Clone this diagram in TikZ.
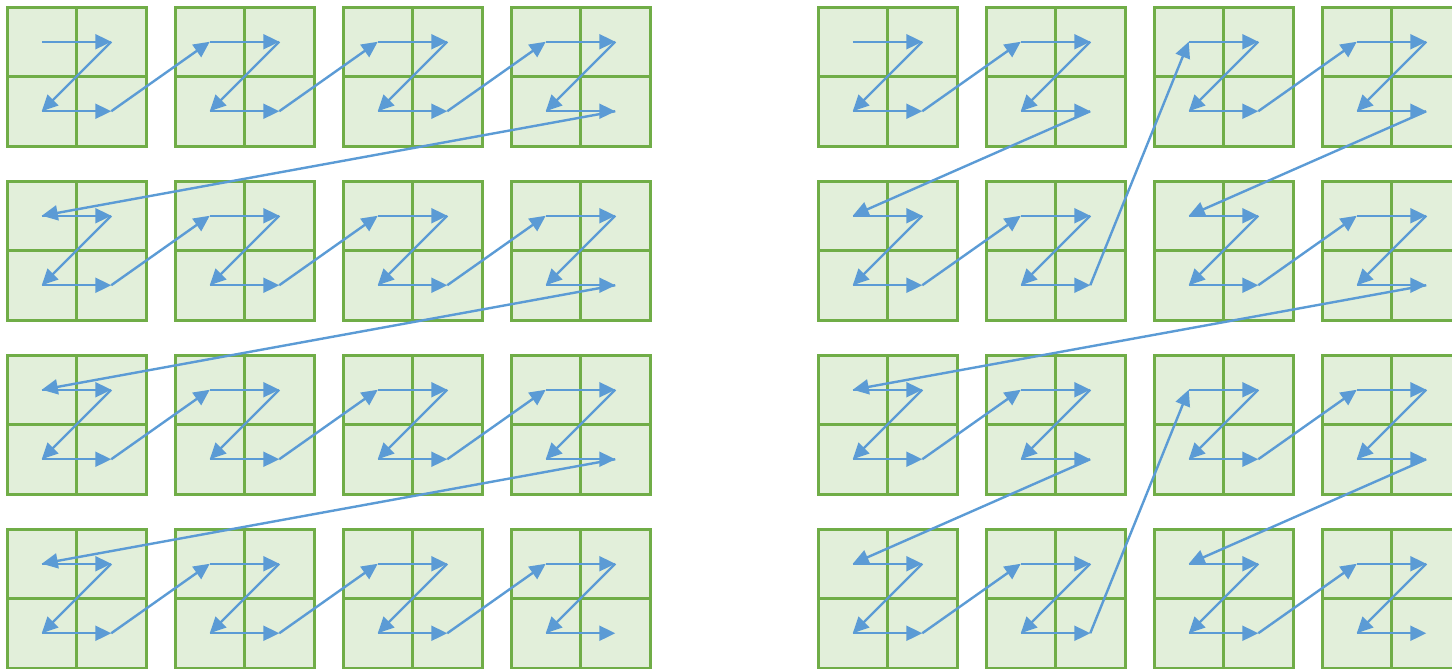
\documentclass[tikz,border=0pt]{standalone}
\usetikzlibrary{arrows.meta}
\definecolor{cellfill}{HTML}{E2EFDA}
\definecolor{celledge}{HTML}{70AD47}
\definecolor{scan}{HTML}{5B9BD5}

\begin{document}
\begin{tikzpicture}[x=0.5pt, y=-0.5pt,
          cell/.style={rectangle, draw=celledge, fill=cellfill, line width=1.5pt,
                       minimum size=34.75pt, inner sep=0pt, outer sep=0pt},
          flow/.style={draw=scan, line width=1.2pt,
                       -{Triangle[length=8pt, width=7.5pt]}}
        ]
        \useasboundingbox (0,0) rectangle (1452,669);
        % 4x4 blocks of 2x2 cells, left grid L and right grid R
        \foreach \g/\ox in {L/7, R/818} {
          \foreach \r in {0,...,3} {
            \foreach \c in {0,...,3} {
              \node[cell] (\g\r\c-1) at (\ox+168*\c+34.75, 7+174*\r+34.75) {};
              \node[cell] (\g\r\c-2) at (\ox+168*\c+104.25, 7+174*\r+34.75) {};
              \node[cell] (\g\r\c-3) at (\ox+168*\c+34.75, 7+174*\r+104.25) {};
              \node[cell] (\g\r\c-4) at (\ox+168*\c+104.25, 7+174*\r+104.25) {};
            }
          }
        }
        % Z inside each block
        \foreach \g in {L, R} {
          \foreach \r in {0,...,3} {
            \foreach \c in {0,...,3} {
              \draw[flow] (\g\r\c-1.center) -- (\g\r\c-2.center);
              \draw[flow] (\g\r\c-2.center) -- (\g\r\c-3.center);
              \draw[flow] (\g\r\c-3.center) -- (\g\r\c-4.center);
            }
          }
        }
        % block to block: row by row on the left
        \foreach \a/\b in {00/01, 01/02, 02/03, 03/10, 10/11, 11/12, 12/13, 13/20,
                           20/21, 21/22, 22/23, 23/30, 30/31, 31/32, 32/33}
          \draw[flow] (L\a-4.center) -- (L\b-1.center);
        % block to block: Z order on the right
        \foreach \a/\b in {00/01, 01/10, 10/11, 11/02, 02/03, 03/12, 12/13, 13/20,
                           20/21, 21/30, 30/31, 31/22, 22/23, 23/32, 32/33}
          \draw[flow] (R\a-4.center) -- (R\b-1.center);
      \end{tikzpicture}
\end{document}
